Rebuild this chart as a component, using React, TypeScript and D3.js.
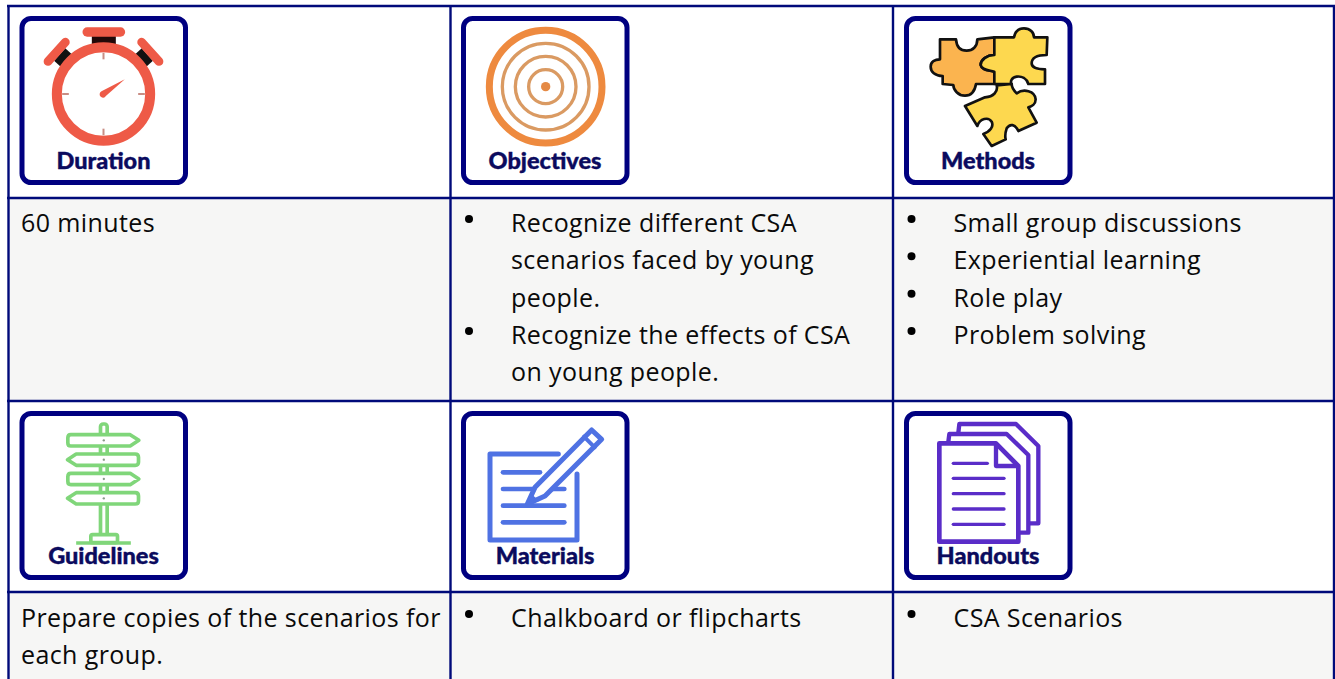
import * as d3 from "d3";
import React from "react";

const WIDTH = 1335;
const HEIGHT = 679;

const NAVY = "#000a7a";
const TEXT_FONT = "'Open Sans', sans-serif";
const LABEL_FONT = "Lato, sans-serif";

const columns = ["first", "second", "third"];
const iconRows = ["top", "bottom"];
const topLabels = ["Duration", "Objectives", "Methods"];
const bottomLabels = ["Guidelines", "Materials", "Handouts"];

// each cell is a list of paragraphs, each paragraph a list of lines
const topCells = [
  { bullet: false, items: [["60 minutes"]] },
  {
    bullet: true,
    items: [
      ["Recognize different CSA", "scenarios faced by young", "people."],
      ["Recognize the effects of CSA", "on young people."],
    ],
  },
  {
    bullet: true,
    items: [
      ["Small group discussions"],
      ["Experiential learning"],
      ["Role play"],
      ["Problem solving"],
    ],
  },
];
const bottomCells = [
  { bullet: false, items: [["Prepare copies of the scenarios for", "each group."]] },
  { bullet: true, items: [["Chalkboard or flipcharts"]] },
  { bullet: true, items: [["CSA Scenarios"]] },
];

// table layout
const colX = d3.scaleOrdinal<string, number>().domain(columns).range([8, 450.5, 893]);
const boxX = d3.scaleOrdinal<string, number>().domain(columns).range([19.5, 461, 904]);
const iconY = d3.scaleOrdinal<string, number>().domain(iconRows).range([16, 411]);
const textY = d3.scaleOrdinal<string, number>().domain(iconRows).range([231.7, 626.7]);
const rowLines = [6, 198, 401, 592];
const colLines = [8.5, 450.5, 893, 1334];

// The icons are drawn on a 3x grid, origin is the outer corner of the box
const BoxArt: React.FC<{ x: number; y: number; label: string; children: React.ReactNode }> = ({
  x,
  y,
  label,
  children,
}) => (
  <g transform={`translate(${x},${y})`}>
    <rect x={2.5} y={2.5} width={163.5} height={164} rx={9} fill="#fff" stroke="#000080" strokeWidth={5} />
    <g transform={`scale(${1 / 3})`}>{children}</g>
    <text
      x={84}
      y={152.5}
      textAnchor="middle"
      fontFamily={LABEL_FONT}
      fontWeight={900}
      fontSize={23.5}
      fill="#0b0b5e"
      stroke="#0b0b5e"
      strokeWidth={0.4}
    >
      {label}
    </text>
  </g>
);

const Stopwatch = () => {
  const red = "#ee5a47";
  return (
    <g transform="translate(-58,-48)">
      {[-48, 48].map((a) => (
        <g key={a} transform={`rotate(${a} 310 282)`}>
          <rect x={285} y={105} width={50} height={40} fill="#111" />
          <rect x={258} y={80} width={104} height={26} rx={13} fill={red} />
        </g>
      ))}
      <rect x={275} y={108} width={72} height={24} fill="#220808" />
      <rect x={247} y={82} width={128} height={28} rx={14} fill={red} />
      <circle cx={310} cy={282} r={140} fill="#fff" stroke={red} strokeWidth={30} />
      {[0, 90, 180, 270].map((a) => (
        <rect key={a} x={307} y={158} width={6} height={20} fill="#c98d84" transform={`rotate(${a} 310 282)`} />
      ))}
      <path d="M374,238 L304,274 A10,10 0 1,0 317,288 Z" fill={red} />
    </g>
  );
};

const Target = () => (
  <g transform="translate(-33,-48)" fill="none">
    <circle cx={287} cy={260} r={169} stroke="#ee8a3f" strokeWidth={21} />
    <circle cx={287} cy={260} r={130} stroke="#da9a62" strokeWidth={10} />
    <circle cx={287} cy={260} r={91} stroke="#da9a62" strokeWidth={10} />
    <circle cx={287} cy={260} r={51} stroke="#da9a62" strokeWidth={10} />
    <circle cx={287} cy={260} r={14} fill="#e58a45" />
  </g>
);

const Puzzle = () => (
  <g transform="translate(-42,-48)" stroke="#111" strokeWidth={8} strokeLinejoin="round">
    <path
      d="M150,118 L198,118 C200,145 215,152 230,152 C248,152 262,140 262,118 L313,112 L313,165 C290,165 272,180 272,195 C275,210 295,210 313,215 L313,252 L258,252 C255,270 245,287 225,287 C205,287 190,270 190,255 L158,252 L158,228 C135,228 122,215 122,200 C122,185 135,178 150,178 Z"
      fill="#fbb44f"
    />
    <path
      d="M313,112 L372,112 C375,95 385,85 402,85 C420,85 432,98 432,112 L472,112 L470,165 C440,165 425,175 425,190 C425,205 445,208 465,208 L465,252 L415,252 C410,235 395,228 380,230 C365,232 360,245 365,252 L313,252 L313,215 C295,210 275,210 272,195 C272,180 290,165 313,165 Z"
      fill="#fdd84f"
    />
    <path
      d="M225,318 L285,292 C310,290 325,275 320,256 L365,252 C365,262 372,272 380,280 C400,265 435,272 437,298 C437,312 425,320 415,322 L440,368 L385,393 C375,372 360,370 350,385 C345,400 345,410 347,418 L305,438 L280,402 C300,395 312,380 305,365 C295,350 270,355 262,378 Z"
      fill="#fdd84f"
    />
  </g>
);

const Signpost = () => {
  const green = "#80d67a";
  return (
    <g transform="translate(-58,-33)" fill="none" stroke={green} strokeWidth={11} strokeLinejoin="round">
      <rect x={301} y={72} width={20} height={336} rx={8} />
      <rect x={272} y={404} width={80} height={24} rx={5} fill="#fff" />
      <line x1={228} x2={392} y1={429} y2={429} />
      <path d="M212,104 L390,104 L416,121 L390,138 L212,138 Q203,138 203,128 L203,114 Q203,104 212,104 Z" fill="#fff" />
      <path d="M405,162 L228,162 L202,179 L228,196 L405,196 Q415,196 415,186 L415,172 Q415,162 405,162 Z" fill="#fff" />
      <path d="M212,220 L390,220 L416,237 L390,254 L212,254 Q203,254 203,244 L203,230 Q203,220 212,220 Z" fill="#fff" />
      <path d="M405,278 L228,278 L202,295 L228,312 L405,312 Q415,312 415,302 L415,288 Q415,278 405,278 Z" fill="#fff" />
      {[121, 179, 237, 295].map((y) => (
        <circle key={y} cx={311} cy={y} r={3.5} fill="#8a9a8a" stroke="none" />
      ))}
    </g>
  );
};

const Notepad = () => {
  const blue = "#4f72e3";
  return (
    <g transform="translate(-33,-33)" fill="none" stroke={blue} strokeLinecap="round">
      <path d="M325,162 L120,162 L120,420 L381,420 L381,222" strokeWidth={15} strokeLinejoin="round" />
      <line x1={159} x2={270} y1={217} y2={217} strokeWidth={14} />
      <line x1={159} x2={343} y1={267} y2={267} strokeWidth={14} />
      <line x1={159} x2={343} y1={317} y2={317} strokeWidth={14} />
      <line x1={159} x2={343} y1={367} y2={367} strokeWidth={14} />
      <path d="M425,90 L455,118 L285,288 L232,312 L255,262 Z" fill="#fff" strokeWidth={15} strokeLinejoin="round" />
      <line x1={402} x2={434} y1={110} y2={142} strokeWidth={12} />
      <path d="M232,312 L243,285 L262,302 Z" fill={blue} strokeWidth={6} />
    </g>
  );
};

const Papers = () => {
  const purple = "#5a2dc8";
  return (
    <g transform="translate(-42,-33)" fill="none" stroke={purple} strokeLinejoin="round">
      <path d="M205,98 L208,72 L378,72 L445,138 L445,370 L415,370" strokeWidth={13} />
      <path d="M175,125 L178,102 L350,102 L415,165 L415,398 L388,398" strokeWidth={13} />
      <path d="M148,130 L318,130 L385,198 L385,425 L148,425 Z" strokeWidth={14} fill="#fff" />
      <path d="M318,130 L318,198 L385,198" strokeWidth={13} />
      <line x1={190} x2={292} y1={190} y2={190} strokeWidth={10} strokeLinecap="round" />
      {[235, 281, 327, 373].map((y) => (
        <line key={y} x1={190} x2={342} y1={y} y2={y} strokeWidth={10} strokeLinecap="round" />
      ))}
    </g>
  );
};

const topArt = [<Stopwatch />, <Target />, <Puzzle />];
const bottomArt = [<Signpost />, <Notepad />, <Papers />];

const LINE_HEIGHT = 37.4;

const Cell: React.FC<{ col: string; y0: number; cell: { bullet: boolean; items: string[][] } }> = ({
  col,
  y0,
  cell,
}) => {
  const left = colX(col);
  let n = 0;
  return (
    <g fontFamily={TEXT_FONT} fontSize={25} letterSpacing={0.4} fill="#0a0a0a">
      {cell.items.map((lines, i) => (
        <g key={i}>
          {cell.bullet && (
            <circle cx={left + 18.5} cy={y0 + n * LINE_HEIGHT - 12.8} r={4} fill="#000" />
          )}
          {lines.map((line) => {
            const y = y0 + n * LINE_HEIGHT;
            n += 1;
            return (
              <text key={line} x={left + (cell.bullet ? 60.5 : 13)} y={y}>
                {line}
              </text>
            );
          })}
        </g>
      ))}
    </g>
  );
};

export default function App() {
  return (
    <svg
      width={WIDTH}
      height={HEIGHT}
      viewBox={`0 0 ${WIDTH} ${HEIGHT}`}
      style={{ position: "absolute", left: 0, top: 0, display: "block", background: "#fff" }}
    >
      <rect x={8} y={198} width={1326} height={203} fill="#f6f6f5" />
      <rect x={8} y={592} width={1326} height={87} fill="#f6f6f5" />

      {rowLines.map((y) => (
        <line key={y} x1={7} x2={1335} y1={y} y2={y} stroke={NAVY} strokeWidth={2.4} />
      ))}
      {colLines.map((x) => (
        <line key={x} x1={x} x2={x} y1={5} y2={HEIGHT} stroke={NAVY} strokeWidth={2.4} />
      ))}

      {columns.map((c, i) => (
        <React.Fragment key={c}>
          <BoxArt x={boxX(c)} y={iconY("top")} label={topLabels[i]}>
            {topArt[i]}
          </BoxArt>
          <BoxArt x={boxX(c)} y={iconY("bottom")} label={bottomLabels[i]}>
            {bottomArt[i]}
          </BoxArt>
          <Cell col={c} y0={textY("top")} cell={topCells[i]} />
          <Cell col={c} y0={textY("bottom")} cell={bottomCells[i]} />
        </React.Fragment>
      ))}
    </svg>
  );
}
